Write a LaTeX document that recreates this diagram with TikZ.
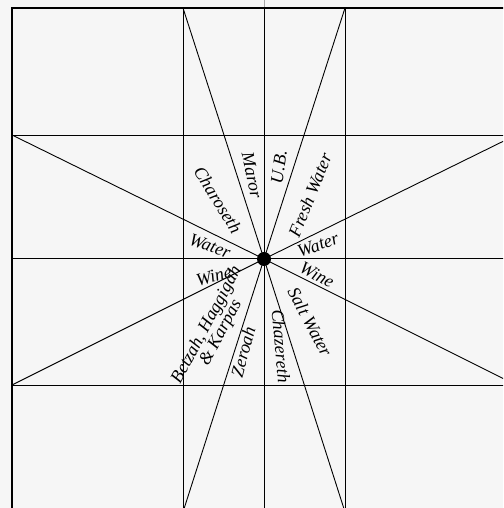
\documentclass[tikz,border=0pt]{standalone}
\usepackage{fontspec}
\setmainfont{Liberation Serif}
\definecolor{bgpaper}{RGB}{246,246,246}
\tikzset{
  gridline/.style={line width=0.9pt, black},
  frameline/.style={line width=2.2pt, black},
  lbl/.style={font=\fontsize{18}{16}\selectfont\itshape, inner sep=0pt, align=center}
}
\begin{document}
\begin{tikzpicture}[x=1pt,y=1pt]
\useasboundingbox (0,0) rectangle (503,508);
\fill[bgpaper] (0,0) rectangle (503,508);
\begin{scope}
\clip (0,0) rectangle (503,508);
% grid
\coordinate (C) at (264,249);
\draw[line width=0.9pt, black!35] (264,500) -- (264,508);
\draw[gridline] (183,-4) -- (183,500);
\draw[gridline] (264,-4) -- (264,500);
\draw[gridline] (345,-4) -- (345,500);
\draw[gridline] (12,373) -- (516,373);
\draw[gridline] (12,250) -- (516,250);
\draw[gridline] (12,123) -- (516,123);
% diagonals
\draw[gridline] (12,373) -- (C) -- (516,123);
\draw[gridline] (516,373) -- (C) -- (12,123);
\draw[gridline] (183,500) -- (C) -- (345,-4);
\draw[gridline] (345,500) -- (C) -- (183,-4);
% frame
\draw[frameline] (12,-6) -- (12,500) -- (520,500);
\end{scope}
\fill[black] (C) circle (7);
% labels
\node[lbl, rotate=-78] (maror) at (252,333) {Maror};
\node[lbl, rotate=82] (ub) at (279,341) {U.B.};
\node[lbl, rotate=68] (fresh) at (310,313) {Fresh Water};
\node[lbl, rotate=-58] (charoseth) at (218,308) {Charoseth};
\node[lbl, rotate=-20] (waterl) at (210,262) {Water};
\node[lbl, rotate=15] (winel) at (214,232) {Wine};
\node[lbl, rotate=20] (waterr) at (318,263) {Water};
\node[lbl, rotate=-28] (winer) at (317,233) {Wine};
\node[lbl, rotate=-62] (salt) at (310,186) {Salt Water};
\node[lbl, rotate=-85] (chazereth) at (281,162) {Chazereth};
\node[lbl, rotate=75] (zeroah) at (243,156) {Zeroah};
\node[lbl, rotate=62] (betzah) at (214,179) {Betzah, Haggigah\\\& Karpas};
\end{tikzpicture}
\end{document}
